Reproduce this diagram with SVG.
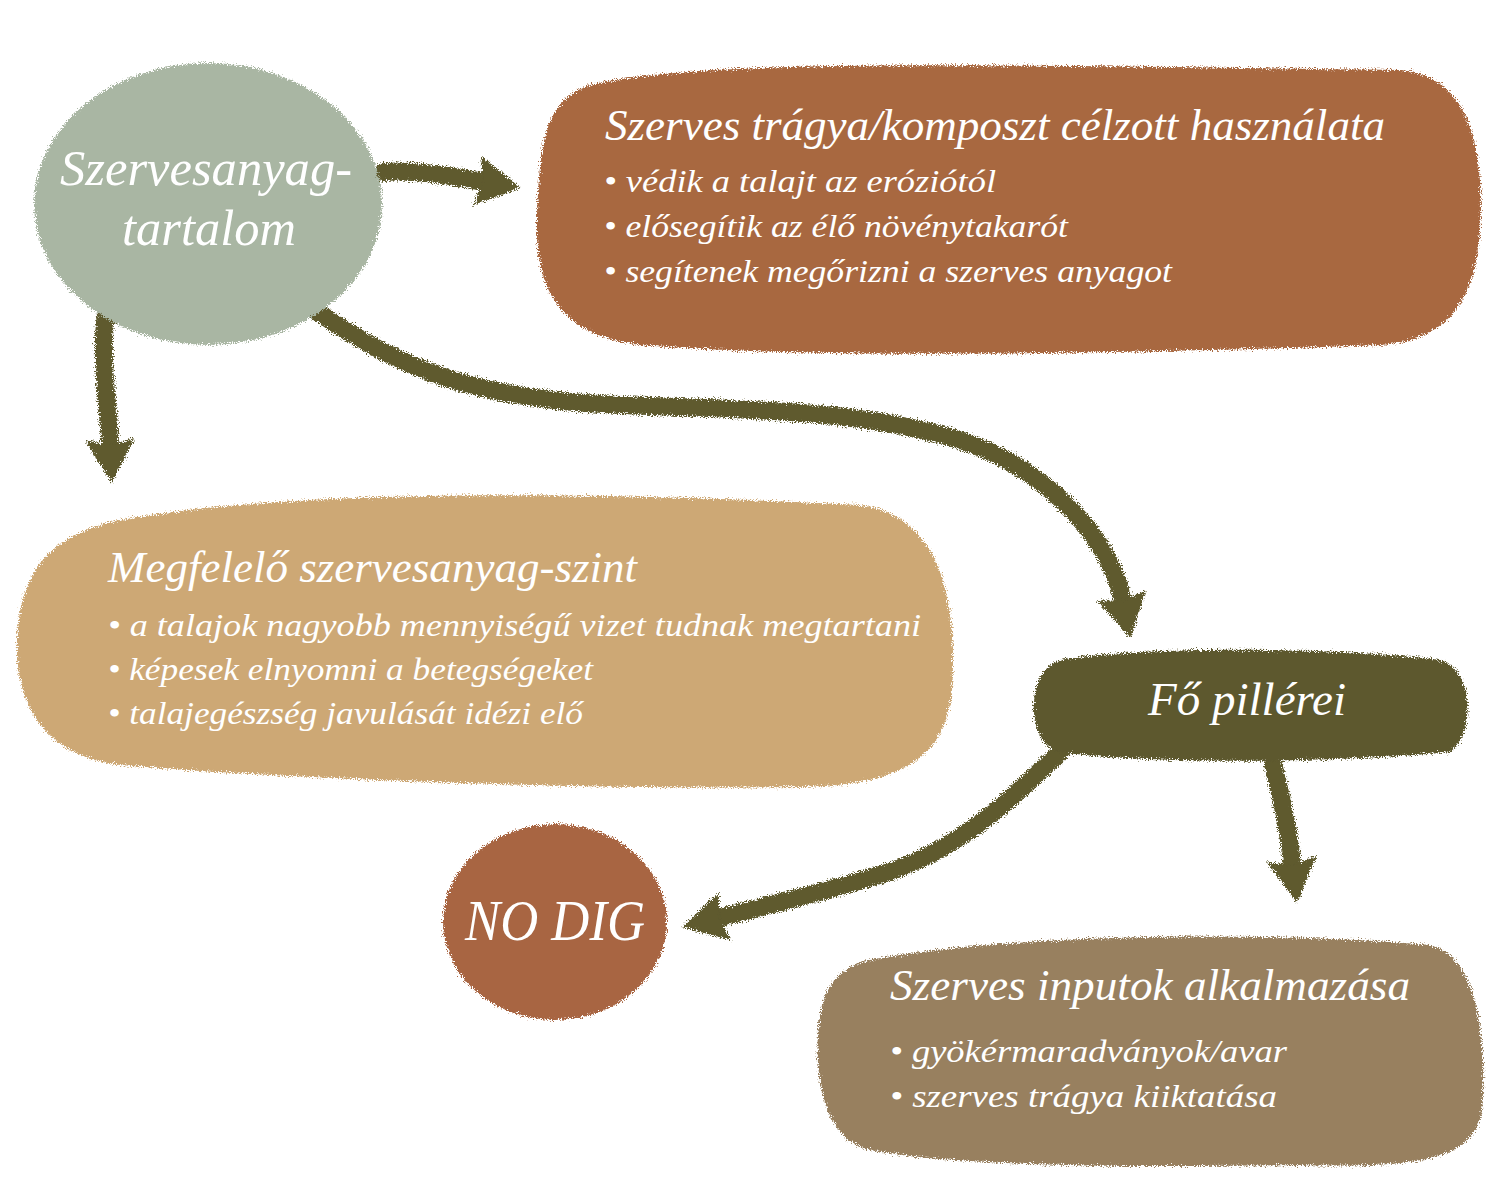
<svg xmlns="http://www.w3.org/2000/svg" width="1500" height="1200" viewBox="0 0 1500 1200">
<style>
.t{fill:#ffffff;font-family:"Liberation Serif","DejaVu Serif",serif;font-style:italic;}
.title{font-size:44px;}
.bul{font-size:32px;}
.conn{fill:none;stroke:#5e5a2e;stroke-width:18;stroke-linecap:round;}
</style>
<defs>
<filter id="rough" x="-10%" y="-10%" width="120%" height="120%">
<feTurbulence type="fractalNoise" baseFrequency="0.8" numOctaves="2" seed="4" result="n"/>
<feDisplacementMap in="SourceGraphic" in2="n" scale="9" xChannelSelector="R" yChannelSelector="G"/>
</filter>
<marker id="ah" viewBox="0 0 44 50" refX="3" refY="25" markerWidth="44" markerHeight="50" markerUnits="userSpaceOnUse" orient="auto">
<path d="M0,0 L44,25 L0,50 L6,25 Z" fill="#5e5a2e"/>
</marker>
</defs>
<rect width="1500" height="1200" fill="#ffffff"/>

<g id="connectors" filter="url(#rough)">
<path class="conn" d="M383,172 C420,170 450,176 480,181" marker-end="url(#ah)"/>
<path class="conn" d="M106,313 C100,360 108,400 110,442" marker-end="url(#ah)"/>
<path class="conn" d="M315,310 C400,370 480,400 620,405 C760,410 860,410 960,440 C1050,470 1110,540 1122,598" marker-end="url(#ah)"/>
<path class="conn" d="M1062,750 C1010,800 960,850 880,875 C820,893 770,905 722,917" marker-end="url(#ah)"/>
<path class="conn" d="M1273,765 C1283,800 1288,830 1292,862" marker-end="url(#ah)"/>
</g>

<g id="node-szervesanyag">
<ellipse cx="208" cy="204" rx="174" ry="141" fill="#a9b6a3" filter="url(#rough)"/>
<text class="t" x="60" y="185" font-size="50" textLength="292" lengthAdjust="spacingAndGlyphs">Szervesanyag-</text>
<text class="t" x="122" y="245" font-size="50" textLength="174" lengthAdjust="spacingAndGlyphs">tartalom</text>
</g>

<g id="node-komposzt">
<path d="M590,85 C700,58 1000,65 1400,70 C1470,75 1485,150 1480,230 C1475,300 1450,340 1380,345 C1100,355 800,358 640,345 C560,335 535,290 537,220 C540,140 545,100 590,85 Z" fill="#a8673f" filter="url(#rough)"/>
<text class="t title" x="605" y="140" textLength="780" lengthAdjust="spacingAndGlyphs">Szerves trágya/komposzt célzott használata</text>
<text class="t bul" x="604" y="192" textLength="392" lengthAdjust="spacingAndGlyphs">• védik a talajt az eróziótól</text>
<text class="t bul" x="604" y="237" textLength="464" lengthAdjust="spacingAndGlyphs">• elősegítik az élő növénytakarót</text>
<text class="t bul" x="604" y="282" textLength="568" lengthAdjust="spacingAndGlyphs">• segítenek megőrizni a szerves anyagot</text>
</g>

<g id="node-megfelelo">
<path d="M120,520 C300,488 600,492 860,505 C940,515 958,600 952,690 C945,760 900,785 800,787 C600,790 300,780 120,765 C40,755 15,700 17,640 C20,570 50,535 120,520 Z" fill="#cda874" filter="url(#rough)"/>
<text class="t title" x="108" y="582" textLength="529" lengthAdjust="spacingAndGlyphs">Megfelelő szervesanyag-szint</text>
<text class="t bul" x="108" y="636" textLength="813" lengthAdjust="spacingAndGlyphs">• a talajok nagyobb mennyiségű vizet tudnak megtartani</text>
<text class="t bul" x="108" y="680" textLength="485" lengthAdjust="spacingAndGlyphs">• képesek elnyomni a betegségeket</text>
<text class="t bul" x="108" y="724" textLength="475" lengthAdjust="spacingAndGlyphs">• talajegészség javulását idézi elő</text>
</g>

<g id="node-fopillerei">
<path d="M1060,660 C1150,645 1350,648 1440,660 C1475,670 1475,735 1450,752 C1350,762 1150,765 1060,752 C1025,745 1025,670 1060,660 Z" fill="#5d582e" filter="url(#rough)"/>
<text class="t" x="1148" y="715" font-size="46" textLength="198" lengthAdjust="spacingAndGlyphs">Fő pillérei</text>
</g>

<g id="node-nodig">
<ellipse cx="555" cy="922" rx="112" ry="98" fill="#a86542" filter="url(#rough)"/>
<text class="t" x="465" y="940" font-size="58" textLength="180" lengthAdjust="spacingAndGlyphs">NO DIG</text>
</g>

<g id="node-inputok">
<path d="M870,960 C1000,935 1250,930 1430,945 C1480,955 1487,1050 1482,1110 C1475,1160 1420,1168 1300,1165 C1100,1168 950,1165 870,1150 C825,1140 815,1080 818,1030 C822,990 835,968 870,960 Z" fill="#98805f" filter="url(#rough)"/>
<text class="t title" x="890" y="1000" textLength="520" lengthAdjust="spacingAndGlyphs">Szerves inputok alkalmazása</text>
<text class="t bul" x="890" y="1062" textLength="397" lengthAdjust="spacingAndGlyphs">• gyökérmaradványok/avar</text>
<text class="t bul" x="890" y="1107" textLength="387" lengthAdjust="spacingAndGlyphs">• szerves trágya kiiktatása</text>
</g>
</svg>
